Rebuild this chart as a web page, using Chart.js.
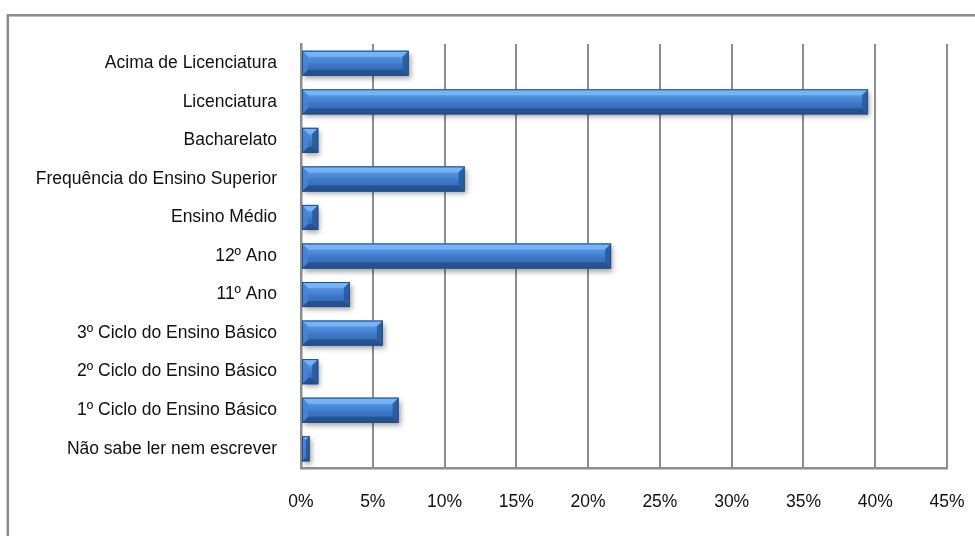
<!DOCTYPE html>
<html lang="pt">
<head>
<meta charset="utf-8">
<title>Habilitações literárias</title>
<script src="https://cdn.jsdelivr.net/npm/chart.js@4"></script>
<style>
  html, body { margin: 0; padding: 0; background: #fff; overflow: hidden; }
  #wrap { width: 975px; height: 536px; position: relative; }
</style>
</head>
<body>
<div id="wrap"><canvas id="chart" width="975" height="536"></canvas></div>
<script>
// Escolaridade (percentagem de respostas)
const niveis = [
    "Acima de Licenciatura",
    "Licenciatura",
    "Bacharelato",
    "Frequência do Ensino Superior",
    "Ensino Médio",
    "12º Ano",
    "11º Ano",
    "3º Ciclo do Ensino Básico",
    "2º Ciclo do Ensino Básico",
    "1º Ciclo do Ensino Básico",
    "Não sabe ler nem escrever"
];
const percentagens = [7.5, 39.5, 1.2, 11.4, 1.2, 21.6, 3.4, 5.7, 1.2, 6.8, 0.6];
const eixoMin = 0;
const eixoMax = 45;
const eixoPasso = 5;

const fonte = { family: "'Liberation Sans', Arial, sans-serif", size: 17.5 };
const cinzaGrelha = "#8e8e8e";

// moldura cinzenta à volta do gráfico
const moldura = {
    id: "moldura",
    beforeDraw(chart) {
        const ctx = chart.ctx;
        ctx.save();
        ctx.strokeStyle = "#8c8c8c";
        ctx.lineWidth = 2.5;
        ctx.strokeRect(7.8, 15.3, 1200, 800);
        ctx.restore();
    }
};

// sombra por baixo das barras + relevo (bisel) por cima
const relevo = {
    id: "relevo",
    beforeDatasetsDraw(chart) {
        const ctx = chart.ctx;
        ctx.save();
        ctx.shadowColor = "rgba(0,0,0,0.35)";
        ctx.shadowBlur = 5;
        ctx.shadowOffsetX = 2;
        ctx.shadowOffsetY = 3;
    },
    afterDatasetsDraw(chart) {
        const ctx = chart.ctx;
        ctx.restore();
        const meta = chart.getDatasetMeta(0);
        meta.data.forEach(bar => {
            const left = Math.min(bar.base, bar.x);
            const right = Math.max(bar.base, bar.x);
            const top = bar.y - bar.height / 2;
            const bottom = bar.y + bar.height / 2;
            const w = right - left;
            const b = Math.min(6, w / 2, bar.height / 4);

            ctx.save();
            // face central
            const g = ctx.createLinearGradient(0, top, 0, bottom);
            g.addColorStop(0, "#70adf2");
            g.addColorStop(0.3, "#4f8fe0");
            g.addColorStop(0.6, "#3b75c4");
            g.addColorStop(1, "#3164aa");
            ctx.fillStyle = g;
            ctx.fillRect(left, top, w, bottom - top);

            const poly = (pts, cor) => {
                ctx.beginPath();
                ctx.moveTo(pts[0][0], pts[0][1]);
                for (let i = 1; i < pts.length; i++) ctx.lineTo(pts[i][0], pts[i][1]);
                ctx.closePath();
                ctx.fillStyle = cor;
                ctx.fill();
            };
            // bisel superior
            poly([[left, top], [right, top], [right - b, top + b], [left + b, top + b]], "rgba(120,182,246,0.9)");
            // bisel inferior
            poly([[left, bottom], [right, bottom], [right - b, bottom - b], [left + b, bottom - b]], "rgba(36,80,140,0.9)");
            // bisel esquerdo
            poly([[left, top], [left + b, top + b], [left + b, bottom - b], [left, bottom]], "rgba(72,132,210,0.9)");
            // bisel direito
            poly([[right, top], [right - b, top + b], [right - b, bottom - b], [right, bottom]], "rgba(42,90,155,0.9)");

            ctx.strokeStyle = "#224d88";
            ctx.lineWidth = 1;
            ctx.strokeRect(left + 0.5, top + 0.5, w - 1, bottom - top - 1);
            ctx.restore();
        });
    }
};

const ctx = document.getElementById("chart").getContext("2d");
const grafico = new Chart(ctx, {
    type: "bar",
    data: {
        labels: niveis,
        datasets: [{
            data: percentagens,
            backgroundColor: "#3d78c6",
            borderWidth: 0,
            barPercentage: 0.65,
            categoryPercentage: 1
        }]
    },
    options: {
        indexAxis: "y",
        responsive: false,
        animation: false,
        devicePixelRatio: 1,
        layout: { padding: { top: 44, right: 28, left: 0, bottom: 0 } },
        plugins: {
            legend: { display: false },
            tooltip: { enabled: false }
        },
        scales: {
            x: {
                min: eixoMin,
                max: eixoMax,
                ticks: {
                    stepSize: eixoPasso,
                    padding: 24,
                    color: "#111",
                    font: fonte,
                    callback: v => v + "%"
                },
                grid: { color: cinzaGrelha, lineWidth: 2, drawTicks: false },
                border: { color: cinzaGrelha, width: 2.5 },
                afterFit(scale) {
                    scale.height = 68;
                    scale.paddingLeft = 0;
                    scale.paddingRight = 0;
                }
            },
            y: {
                ticks: { padding: 24, color: "#111", font: fonte, autoSkip: false },
                grid: { display: false, drawTicks: false },
                border: { color: cinzaGrelha, width: 2.5 },
                afterFit(scale) {
                    scale.width = 301;
                    scale.paddingTop = 0;
                    scale.paddingBottom = 0;
                }
            }
        }
    },
    plugins: [moldura, relevo]
});
</script>
</body>
</html>
